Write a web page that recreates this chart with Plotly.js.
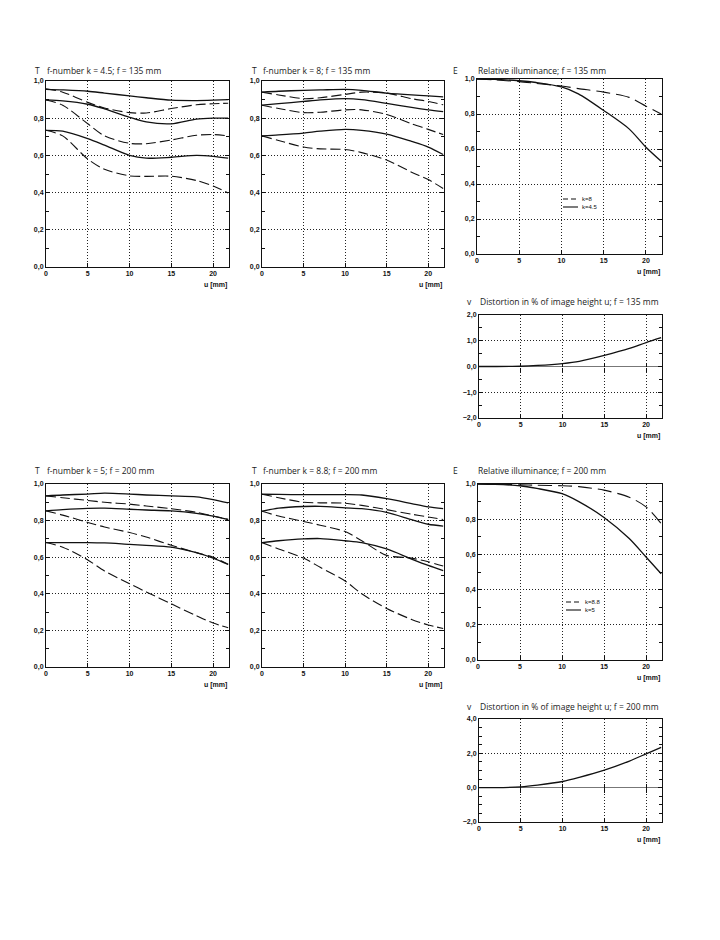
<!DOCTYPE html>
<html>
<head>
<meta charset="utf-8">
<script src="https://cdn.plot.ly/plotly-3.0.1.min.js"></script>
<style>html,body{margin:0;padding:0;background:#fff;}#chart{width:720px;height:940px;}</style>
</head>
<body>
<div id="chart"></div>
<script>
// image height u [mm]
const u = [0, 2, 5, 7, 10, 12, 15, 18, 20, 21.8];

// T, f-number k = 4.5; f = 135 mm
const t135k45_s1 = [0.955, 0.952, 0.945, 0.935, 0.92, 0.91, 0.897, 0.895, 0.897, 0.9];
const t135k45_d1 = [0.958, 0.94, 0.885, 0.855, 0.83, 0.828, 0.852, 0.872, 0.878, 0.88];
const t135k45_s2 = [0.898, 0.893, 0.875, 0.85, 0.805, 0.78, 0.77, 0.795, 0.8, 0.8];
const t135k45_d2 = [0.898, 0.87, 0.77, 0.705, 0.665, 0.663, 0.683, 0.708, 0.712, 0.705];
const t135k45_s3 = [0.735, 0.73, 0.69, 0.655, 0.6, 0.585, 0.59, 0.6, 0.595, 0.585];
const t135k45_d3 = [0.735, 0.705, 0.58, 0.525, 0.49, 0.487, 0.488, 0.465, 0.435, 0.398];

// T, f-number k = 8; f = 135 mm
const t135k8_s1 = [0.94, 0.945, 0.95, 0.952, 0.955, 0.95, 0.935, 0.925, 0.92, 0.915];
const t135k8_d1 = [0.94, 0.925, 0.905, 0.91, 0.928, 0.94, 0.935, 0.905, 0.89, 0.872];
const t135k8_s2 = [0.87, 0.878, 0.89, 0.898, 0.905, 0.9, 0.88, 0.858, 0.845, 0.835];
const t135k8_d2 = [0.87, 0.852, 0.83, 0.832, 0.845, 0.845, 0.82, 0.77, 0.74, 0.712];
const t135k8_s3 = [0.705, 0.71, 0.72, 0.73, 0.74, 0.735, 0.715, 0.675, 0.645, 0.605];
const t135k8_d3 = [0.705, 0.68, 0.645, 0.635, 0.632, 0.615, 0.575, 0.51, 0.47, 0.422];

// Relative illuminance f = 135 mm
const e135_k45 = [1.0, 0.998, 0.99, 0.98, 0.955, 0.915, 0.82, 0.715, 0.61, 0.53];
const e135_k8 = [1.0, 0.995, 0.985, 0.975, 0.96, 0.945, 0.925, 0.895, 0.845, 0.8];

// Distortion f = 135 mm
const v135 = [0, 0, 0.01, 0.04, 0.115, 0.2, 0.43, 0.7, 0.93, 1.12];

// T, f-number k = 5; f = 200 mm
const t200k5_s1 = [0.935, 0.94, 0.945, 0.95, 0.945, 0.94, 0.935, 0.93, 0.915, 0.897];
const t200k5_d1 = [0.935, 0.925, 0.91, 0.9, 0.89, 0.88, 0.865, 0.845, 0.825, 0.806];
const t200k5_s2 = [0.853, 0.86, 0.867, 0.868, 0.862, 0.858, 0.853, 0.84, 0.825, 0.806];
const t200k5_d2 = [0.853, 0.83, 0.79, 0.765, 0.735, 0.71, 0.665, 0.625, 0.6, 0.562];
const t200k5_s3 = [0.68, 0.68, 0.68, 0.678, 0.67, 0.665, 0.655, 0.625, 0.595, 0.56];
const t200k5_d3 = [0.68, 0.655, 0.585, 0.525, 0.455, 0.41, 0.345, 0.28, 0.24, 0.215];

// T, f-number k = 8.8; f = 200 mm
const t200k88_s1 = [0.944, 0.943, 0.942, 0.942, 0.942, 0.94, 0.92, 0.893, 0.875, 0.865];
const t200k88_d1 = [0.944, 0.925, 0.9, 0.897, 0.895, 0.883, 0.86, 0.835, 0.82, 0.806];
const t200k88_s2 = [0.851, 0.868, 0.877, 0.878, 0.87, 0.865, 0.845, 0.805, 0.78, 0.77];
const t200k88_d2 = [0.851, 0.825, 0.795, 0.775, 0.74, 0.69, 0.61, 0.595, 0.575, 0.552];
const t200k88_s3 = [0.68, 0.69, 0.7, 0.702, 0.69, 0.68, 0.645, 0.59, 0.555, 0.527];
const t200k88_d3 = [0.68, 0.645, 0.595, 0.545, 0.47, 0.4, 0.32, 0.26, 0.23, 0.21];

// Relative illuminance f = 200 mm
const e200_k5 = [1.0, 0.998, 0.99, 0.975, 0.945, 0.9, 0.81, 0.69, 0.585, 0.49];
const e200_k88 = [1.0, 1.0, 0.995, 0.993, 0.99, 0.985, 0.965, 0.925, 0.87, 0.775];

// Distortion f = 200 mm
const v200 = [0, 0, 0.05, 0.15, 0.36, 0.6, 1.02, 1.55, 1.97, 2.35];

const W = 720, H = 940;
const px = x => x / W;
const py = y => 1 - y / H;

const tickFont = {family: 'Liberation Sans', size: 7, weight: 'bold', color: '#111'};
const titleFont = {family: 'Open Sans', size: 8.5, color: '#222'};
const TDASH = '10px,4px';
const EDASH = '14px,6px';
const GRIDDASH = '1px,2px';

function line(xs, ys, ax, dash) {
  return {
    x: xs, y: ys, xaxis: 'x' + ax, yaxis: 'y' + ax, type: 'scatter', mode: 'lines',
    line: {color: '#111', width: dash ? 1.1 : 1.3, dash: dash || 'solid', shape: 'spline', smoothing: 0.8},
    showlegend: false, hoverinfo: 'skip', cliponaxis: true
  };
}

const data = [];
function tPanel(ax, s1, d1, s2, d2, s3, d3) {
  [s1, s2, s3].forEach(s => data.push(line(u, s, ax, null)));
  [d1, d2, d3].forEach(d => data.push(line(u, d, ax, TDASH)));
}
tPanel('', t135k45_s1, t135k45_d1, t135k45_s2, t135k45_d2, t135k45_s3, t135k45_d3);
tPanel('2', t135k8_s1, t135k8_d1, t135k8_s2, t135k8_d2, t135k8_s3, t135k8_d3);
data.push(line(u, e135_k8, '3', EDASH));
data.push(line(u, e135_k45, '3', null));
data.push(line(u, v135, '4', null));
tPanel('5', t200k5_s1, t200k5_d1, t200k5_s2, t200k5_d2, t200k5_s3, t200k5_d3);
tPanel('6', t200k88_s1, t200k88_d1, t200k88_s2, t200k88_d2, t200k88_s3, t200k88_d3);
data.push(line(u, e200_k88, '7', EDASH));
data.push(line(u, e200_k5, '7', null));
data.push(line(u, v200, '8', null));
// empty helper traces so the zero-line tick axes get drawn
[['9', '4'], ['10', '4'], ['11', '8'], ['12', '8']].forEach(p => {
  data.push({x: [null], y: [null], xaxis: 'x' + p[0], yaxis: 'y' + p[1], type: 'scatter', mode: 'lines',
    showlegend: false, hoverinfo: 'skip'});
});

function xa(x0, x1, anchor) {
  return {
    domain: [px(x0), px(x1)], anchor: anchor, range: [0, 21.9], tick0: 0, dtick: 5,
    ticks: 'inside', ticklen: 4, tickcolor: '#111', tickwidth: 1,
    showline: true, linecolor: '#111', linewidth: 1, mirror: true,
    showgrid: true, gridcolor: '#222', griddash: GRIDDASH, gridwidth: 1,
    zeroline: false, tickfont: tickFont, tickformat: 'd', fixedrange: true
  };
}
function ya(y0, y1, anchor, range, dtick, minor, zl) {
  return {
    domain: [py(y1), py(y0)], anchor: anchor, range: range, tick0: 0, dtick: dtick,
    ticks: 'inside', ticklen: 4, tickcolor: '#111', tickwidth: 1,
    minor: {dtick: minor, tick0: 0, ticks: 'inside', ticklen: 3, tickcolor: '#111', showgrid: false},
    showline: true, linecolor: '#111', linewidth: 1, mirror: 'ticks',
    showgrid: true, gridcolor: '#222', griddash: GRIDDASH, gridwidth: 1,
    zeroline: !!zl, zerolinecolor: '#777', zerolinewidth: 1.6,
    tickfont: tickFont, tickformat: '.1f', fixedrange: true
  };
}
// short tick marks crossing the zero line of the distortion panels
function zeroTicks(x0, x1, yZero, over, side) {
  return {
    domain: [px(x0), px(x1)], overlaying: over, anchor: 'free', position: py(yZero), side: side,
    range: [0, 21.9], ticks: 'outside', ticklen: 4, tickcolor: '#111', tickwidth: 1,
    showline: false, showgrid: false, zeroline: false, showticklabels: false, fixedrange: true,
    tickmode: 'array', tickvals: [5, 10, 15, 20]
  };
}

const layout = {
  width: W, height: H, margin: {l: 0, r: 0, t: 0, b: 0},
  paper_bgcolor: '#fff', plot_bgcolor: 'rgba(0,0,0,0)', separators: ',.', showlegend: false,
  font: {family: 'Open Sans', color: '#111'},
  xaxis: xa(46, 229, 'y'), yaxis: ya(81, 267, 'x', [0, 1], 0.2, 0.1),
  xaxis2: xa(262, 444, 'y2'), yaxis2: ya(81, 267, 'x2', [0, 1], 0.2, 0.1),
  xaxis3: xa(477, 662, 'y3'), yaxis3: ya(79, 254, 'x3', [0, 1], 0.2, 0.1),
  xaxis4: xa(479, 662, 'y4'), yaxis4: ya(315, 418, 'x4', [-2, 2], 1, 0.5, true),
  xaxis5: xa(46, 229, 'y5'), yaxis5: ya(484, 667, 'x5', [0, 1], 0.2, 0.1),
  xaxis6: xa(262, 444, 'y6'), yaxis6: ya(484, 667, 'x6', [0, 1], 0.2, 0.1),
  xaxis7: xa(478, 662, 'y7'), yaxis7: ya(484, 660, 'x7', [0, 1], 0.2, 0.1),
  xaxis8: xa(479, 662, 'y8'), yaxis8: ya(719, 822, 'x8', [-2, 4], 2, 0.5, true),
  xaxis9: zeroTicks(479, 662, 366.5, 'x4', 'bottom'),
  xaxis10: zeroTicks(479, 662, 366.5, 'x4', 'top'),
  xaxis11: zeroTicks(479, 662, 787.7, 'x8', 'bottom'),
  xaxis12: zeroTicks(479, 662, 787.7, 'x8', 'top'),
  annotations: [],
  shapes: []
};

function title(letterX, textX, y, letter, text) {
  layout.annotations.push({xref: 'paper', yref: 'paper', x: px(letterX), y: py(y), xanchor: 'left', yanchor: 'middle',
    text: letter, showarrow: false, font: titleFont});
  layout.annotations.push({xref: 'paper', yref: 'paper', x: px(textX), y: py(y), xanchor: 'left', yanchor: 'middle',
    text: text, showarrow: false, font: titleFont});
}
title(33, 45, 70, 'T', 'f-number k = 4.5; f = 135 mm');
title(250, 261, 70, 'T', 'f-number k = 8; f = 135 mm');
title(451, 476, 70, 'E', 'Relative illuminance; f = 135 mm');
title(465, 478, 302, 'v', 'Distortion in % of image height u; f = 135 mm');
title(33, 45, 470, 'T', 'f-number k = 5; f = 200 mm');
title(250, 261, 470, 'T', 'f-number k = 8.8; f = 200 mm');
title(451, 476, 470, 'E', 'Relative illuminance; f = 200 mm');
title(465, 478, 706, 'v', 'Distortion in % of image height u; f = 200 mm');

['', '2', '3', '4', '5', '6', '7', '8'].forEach(ax => {
  layout.annotations.push({xref: 'x' + ax + ' domain', yref: 'y' + ax + ' domain', x: 1, y: 0,
    xanchor: 'right', yanchor: 'top', yshift: -12, text: 'u [mm]', showarrow: false, font: tickFont});
});

// compact key (legend) for the illuminance panels
const legendFont = {family: 'Liberation Sans', size: 6, color: '#111'};
function key(x, y, label, dash) {
  layout.shapes.push({type: 'line', xref: 'paper', yref: 'paper', x0: px(x), x1: px(x + 15), y0: py(y), y1: py(y),
    line: {color: '#111', width: 1.1, dash: dash ? '5px,3px' : 'solid'}});
  layout.annotations.push({xref: 'paper', yref: 'paper', x: px(x + 17), y: py(y), xanchor: 'left', yanchor: 'middle',
    text: label, showarrow: false, font: legendFont});
}
key(563, 199, 'k=8', true);
key(563, 207, 'k=4.5', false);
key(566, 602, 'k=8.8', true);
key(566, 610, 'k=5', false);

Plotly.newPlot('chart', data, layout, {staticPlot: true, displayModeBar: false});
</script>
</body>
</html>
